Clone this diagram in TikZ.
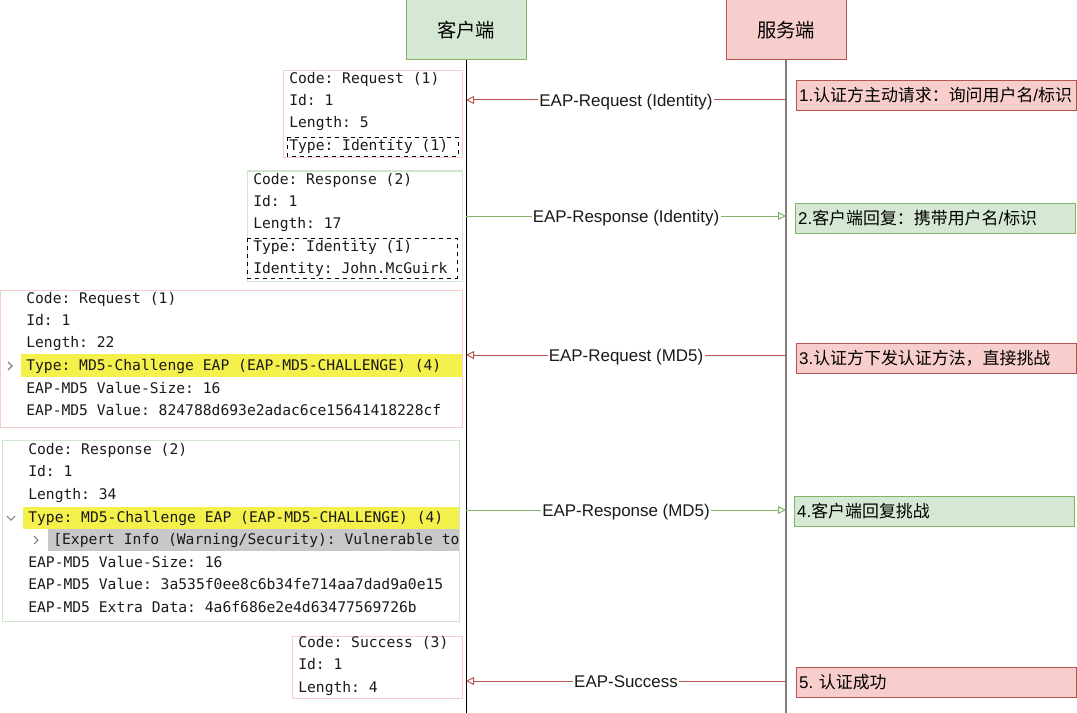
\documentclass[tikz,border=0pt]{standalone}
\usepackage{fontspec}
\setmainfont{Liberation Sans}
\setmonofont{DejaVu Sans Mono}
\newfontfamily\cjk{Noto Sans CJK SC}
\newfontfamily\lat{Liberation Sans}
\usetikzlibrary{arrows.meta}
\definecolor{redfill}{HTML}{F8CECC}
\definecolor{redline}{HTML}{B85450}
\definecolor{greenfill}{HTML}{D5E8D4}
\definecolor{greenline}{HTML}{82B366}
\definecolor{pktred}{HTML}{F8CECC}
\definecolor{pktgreen}{HTML}{D0E6CF}
\definecolor{hlyellow}{HTML}{F4F04C}
\definecolor{hlgray}{HTML}{C8C8C8}
\definecolor{txt}{HTML}{1A1A1A}
\tikzset{
  actor/.style={draw, line width=0.75pt, minimum width=90pt, minimum height=45pt, font=\cjk\fontsize{14.5}{17}\selectfont},
  note/.style={draw, line width=0.75pt, anchor=north west, minimum width=210pt, minimum height=22.5pt, text width=206pt, align=left, inner xsep=2pt, font=\cjk\fontsize{12.7}{15}\selectfont},
  pkt/.style={anchor=west, inner sep=0pt, font=\ttfamily\fontsize{11}{13}\selectfont, text height=9pt, text depth=1.7pt, text=txt},
  msglabel/.style={fill=white, inner sep=1pt, font=\fontsize{12.7}{15}\selectfont, text=txt, text height=9.5pt, text depth=2.5pt, yshift=-1.5pt},
  msgred/.style={draw=redline, line width=0.75pt, -{Triangle[open, length=6pt, width=6pt]}},
  msggreen/.style={draw=greenline, line width=0.75pt, -{Triangle[open, length=6pt, width=6pt]}},
  pktboxred/.style={draw=pktred, line width=0.75pt},
  pktboxgreen/.style={draw=pktgreen, line width=0.75pt},
  inner dash/.style={draw=black, dashed, line width=0.6pt},
  chevron/.style={draw=gray, line width=0.8pt},
}
\begin{document}
\begin{tikzpicture}[x=0.75pt,y=-0.75pt]
\useasboundingbox (0,0) rectangle (1077,713);
% actors
\node[actor, fill=greenfill, draw=greenline] (client) at (466,30) {客户端};
\node[actor, fill=redfill, draw=redline] (server) at (786,30) {服务端};
\coordinate (clientEnd) at (466,713);
\coordinate (serverEnd) at (786,713);
\draw[line width=0.75pt] (client.south) -- (clientEnd);
\draw[line width=1.5pt, draw=gray] (server.south) -- (serverEnd);

% packet A
\draw[pktboxred] (283,71) rectangle (462,158);
\draw[inner dash] (287,137) rectangle (458,156);
\node[pkt] (a1) at (289,79) {Code: Request (1)};
\node[pkt] (a2) at (289,101) {Id: 1};
\node[pkt] (a3) at (289,123) {Length: 5};
\node[pkt] (a4) at (289,146) {Type: Identity (1)};

% packet B
\draw[pktboxgreen] (247,171) rectangle (462,281);
\draw[inner dash] (247,238) rectangle (457,278);
\node[pkt] (b1) at (253,180) {Code: Response (2)};
\node[pkt] (b2) at (253,202) {Id: 1};
\node[pkt] (b3) at (253,224) {Length: 17};
\node[pkt] (b4) at (253,247) {Type: Identity (1)};
\node[pkt] (b5) at (253,269) {Identity: John.McGuirk};

% packet C
\draw[pktboxred] (0.5,290) rectangle (462,427);
\fill[hlyellow] (21,354) rectangle (461.5,377);
\draw[chevron] (8,362) -- (12,366) -- (8,370);
\node[pkt] (c1) at (26,299) {Code: Request (1)};
\node[pkt] (c2) at (26,321) {Id: 1};
\node[pkt] (c3) at (26,343) {Length: 22};
\node[pkt] (c4) at (26,366) {Type: MD5-Challenge EAP (EAP-MD5-CHALLENGE) (4)};
\node[pkt] (c5) at (26,389) {EAP-MD5 Value-Size: 16};
\node[pkt] (c6) at (26,411) {EAP-MD5 Value: 824788d693e2adac6ce15641418228cf};

% packet D
\draw[pktboxgreen] (2,440) rectangle (459,621);
\fill[hlyellow] (23,507) rectangle (458.5,529);
\fill[hlgray] (48,529) rectangle (458.5,551);
\draw[chevron] (7,516) -- (11,520) -- (15,516);
\draw[chevron] (34,536) -- (38,540) -- (34,544);
\node[pkt] (d1) at (28,450) {Code: Response (2)};
\node[pkt] (d2) at (28,472) {Id: 1};
\node[pkt] (d3) at (28,495) {Length: 34};
\node[pkt] (d4) at (28,518) {Type: MD5-Challenge EAP (EAP-MD5-CHALLENGE) (4)};
\begin{scope}
\clip (48,529) rectangle (458.5,551);
\node[pkt] (d5) at (53,540) {[Expert Info (Warning/Security): Vulnerable to};
\end{scope}
\node[pkt] (d6) at (28,563) {EAP-MD5 Value-Size: 16};
\node[pkt] (d7) at (28,585) {EAP-MD5 Value: 3a535f0ee8c6b34fe714aa7dad9a0e15};
\node[pkt] (d8) at (28,608) {EAP-MD5 Extra Data: 4a6f686e2e4d63477569726b};

% packet E
\draw[pktboxred] (292,636) rectangle (462,698);
\node[pkt] (e1) at (298,643) {Code: Success (3)};
\node[pkt] (e2) at (298,665) {Id: 1};
\node[pkt] (e3) at (298,688) {Length: 4};

% messages
\coordinate (s1) at (786,100); \coordinate (k1) at (466,100);
\coordinate (s2) at (786,216); \coordinate (k2) at (466,216);
\coordinate (s3) at (786,355); \coordinate (k3) at (466,355);
\coordinate (s4) at (786,510); \coordinate (k4) at (466,510);
\coordinate (s5) at (786,681); \coordinate (k5) at (466,681);
\draw[msgred] (s1) -- node[msglabel] (m1) {EAP-Request (Identity)} (k1);
\draw[msggreen] (k2) -- node[msglabel] (m2) {EAP-Response (Identity)} (s2);
\draw[msgred] (s3) -- node[msglabel] (m3) {EAP-Request (MD5)} (k3);
\draw[msggreen] (k4) -- node[msglabel] (m4) {EAP-Response (MD5)} (s4);
\draw[msgred] (s5) -- node[msglabel] (m5) {EAP-Success} (k5);

% notes
\node[note, fill=redfill, draw=redline] (n1) at (796,80) {{\lat 1.}认证方主动请求：询问用户名{\lat /}标识};
\node[note, fill=greenfill, draw=greenline] (n2) at (795,203) {{\lat 2.}客户端回复：携带用户名{\lat /}标识};
\node[note, fill=redfill, draw=redline] (n3) at (796,343) {{\lat 3.}认证方下发认证方法，直接挑战};
\node[note, fill=greenfill, draw=greenline] (n4) at (794,496) {{\lat 4.}客户端回复挑战};
\node[note, fill=redfill, draw=redline] (n5) at (796,667) {{\lat 5.\ }认证成功};
\end{tikzpicture}
\end{document}
